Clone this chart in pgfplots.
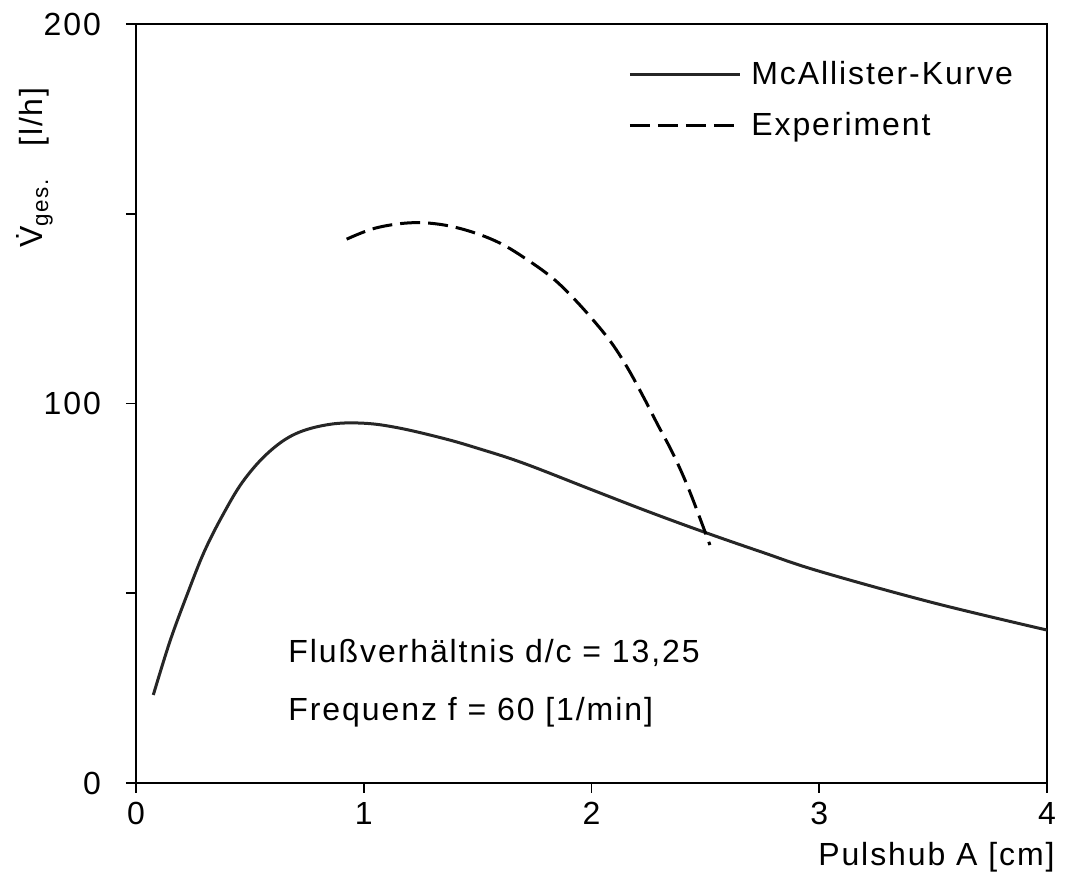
\documentclass[border=0pt]{standalone}
\usepackage{fontspec}
\setmainfont[LetterSpace=6]{Liberation Sans}
\usepackage{pgfplots}
\pgfplotsset{compat=1.18}
\newcommand{\lf}{\fontsize{16}{19}\selectfont}
\begin{document}
\begin{tikzpicture}
\begin{axis}[
  name=ax,
  scale only axis, width=455.5pt, height=379.5pt,
  xmin=0, xmax=4, ymin=0, ymax=200,
  axis line style={line width=0.9pt},
  xtick={0,1,2,3,4},
  ytick={0,50,100,150,200}, yticklabels={0,,100,,200},
  xtick pos=bottom, ytick pos=left,
  tick align=outside, major tick length=5pt,
  tick style={line width=0.9pt, black},
  every tick label/.append style={font=\lf},
  yticklabel style={xshift=-9pt},
  xticklabel style={yshift=-1pt},
  /pgf/number format/assume math mode=true,
  clip=false,
  legend cell align=left,
  legend style={draw=none, fill=none, at={(rel axis cs:0.540,0.957)}, anchor=north west,
    inner sep=0pt, font=\lf, row sep=8.5pt},
  legend image code/.code={\draw[#1] (0pt,0pt) -- (55pt,0pt); \path (58pt,0pt);},
]
\addplot[black!85, line width=1.5pt, smooth, tension=0.6] coordinates {
(0.076,23.2) (0.15,37.5) (0.23,50.5) (0.30,61) (0.38,70.5) (0.47,79.5)
(0.58,87) (0.70,92) (0.85,94.5) (1.0,94.8) (1.15,93.6) (1.35,90.8)
(1.5,88.2) (1.7,84.3) (2.0,77.3) (2.25,71.5) (2.5,66) (2.75,60.8)
(3.0,55.8) (3.5,47.5) (4.0,40.3)
};
\addlegendentry{McAllister-Kurve}
\addplot[black, line width=1.5pt, smooth, tension=0.6, dash pattern=on 10pt off 4pt] coordinates {
(0.925,143.3) (1.05,146.2) (1.2,147.6) (1.335,147.2) (1.47,145.3) (1.6,142.2)
(1.72,137.8) (1.83,133) (1.92,127.8) (2.01,121.8) (2.09,115.8) (2.16,109.2)
(2.23,101.5) (2.29,94.5) (2.36,86.5) (2.43,77) (2.52,62.7)
};
\addlegendentry{Experiment}
\node[anchor=west, inner sep=0pt, font=\lf] at (rel axis cs:0.1669,0.1713) {Flußverhältnis d/c = 13,25};
\node[anchor=west, inner sep=0pt, font=\lf] at (rel axis cs:0.1669,0.0935) {Frequenz f = 60 [1/min]};
\node[rotate=90, anchor=base, inner sep=0pt, font=\lf] at ([xshift=-46.5pt]rel axis cs:0,0.811) {\.{V}\textsubscript{ges.}\quad[l/h]};
\node[anchor=base east, inner sep=0pt, font=\lf] at ([xshift=4pt,yshift=-41.5pt]rel axis cs:1,0) {Pulshub A [cm]};
\end{axis}
\pgfresetboundingbox
\path ([xshift=-68pt,yshift=-47pt]ax.south west) rectangle ([xshift=12pt,yshift=12pt]ax.north east);
\end{tikzpicture}
\end{document}
